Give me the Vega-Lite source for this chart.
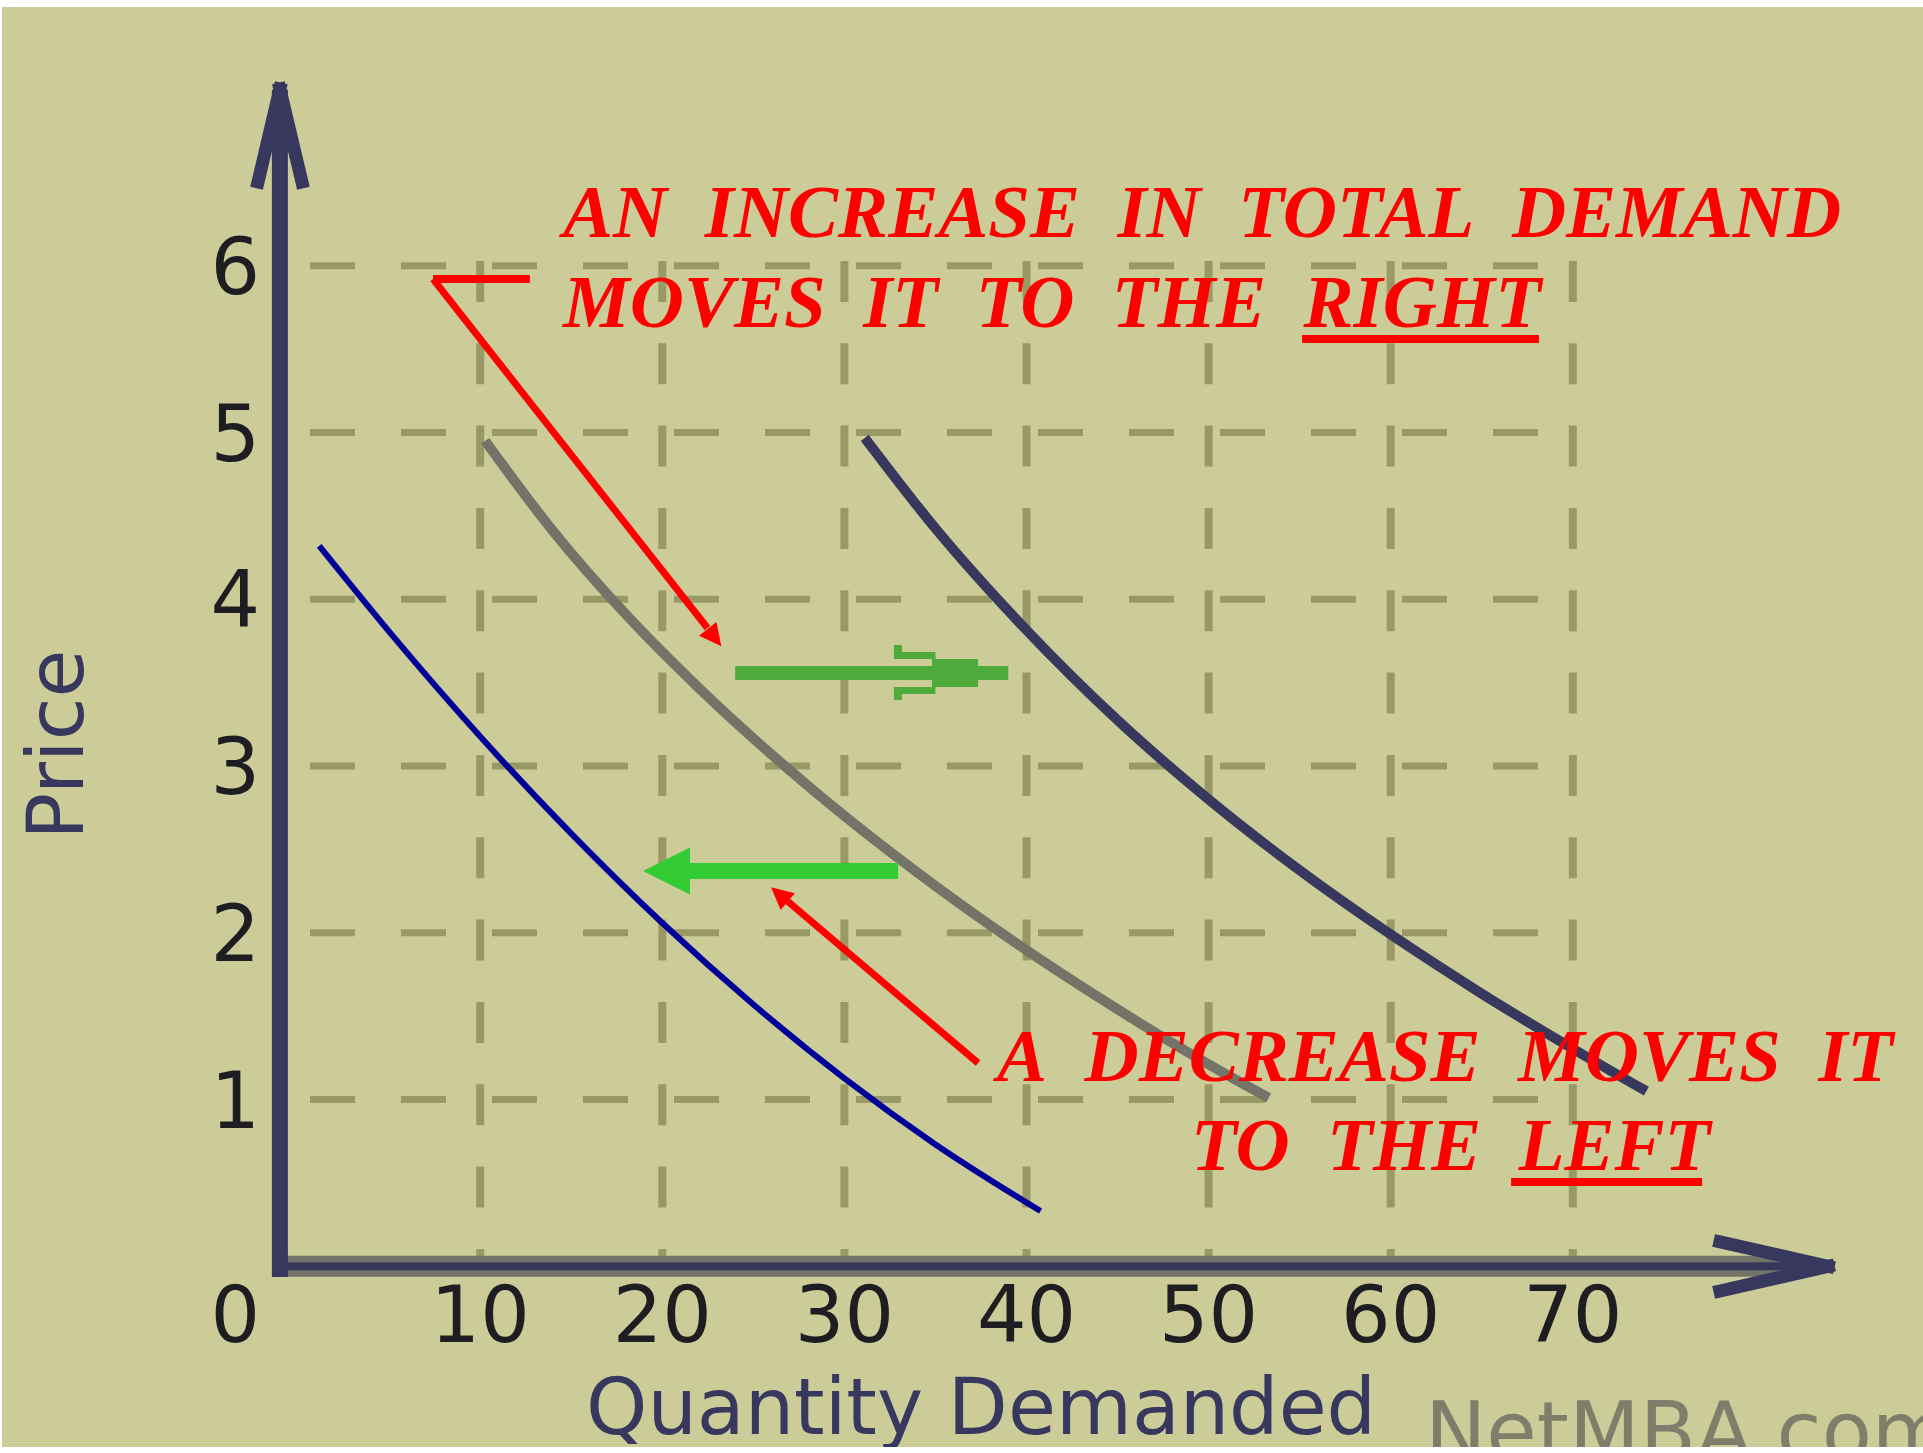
{
  "$schema": "https://vega.github.io/schema/vega-lite/v6.json",
  "width": 1923,
  "height": 1453,
  "autosize": {"type": "fit", "contains": "padding"},
  "padding": {"left": 2, "top": 7, "right": 0, "bottom": 6},
  "background": "white",
  "config": {"view": {"fill": "#CCCC99", "stroke": null}},
  "datasets": {
    "hgrid": [
      {"x": 0.653, "x2": 68.14, "y": 1, "y2": 1},
      {"x": 0.653, "x2": 68.14, "y": 2, "y2": 2},
      {"x": 0.653, "x2": 68.14, "y": 3, "y2": 3},
      {"x": 0.653, "x2": 68.14, "y": 4, "y2": 4},
      {"x": 0.653, "x2": 68.14, "y": 5, "y2": 5},
      {"x": 0.653, "x2": 68.14, "y": 6, "y2": 6}
    ],
    "vgrid": [
      {"x": 10, "x2": 10, "y": 6.029, "y2": 0},
      {"x": 20, "x2": 20, "y": 6.029, "y2": 0},
      {"x": 30, "x2": 30, "y": 6.029, "y2": 0},
      {"x": 40, "x2": 40, "y": 6.029, "y2": 0},
      {"x": 50, "x2": 50, "y": 6.029, "y2": 0},
      {"x": 60, "x2": 60, "y": 6.029, "y2": 0},
      {"x": 70, "x2": 70, "y": 6.029, "y2": 0}
    ],
    "curves": [
      {"curve": "decrease", "x": 1.16, "y": 4.32},
      {"curve": "decrease", "x": 5, "y": 3.806},
      {"curve": "decrease", "x": 10, "y": 3.177},
      {"curve": "decrease", "x": 15, "y": 2.595},
      {"curve": "decrease", "x": 20, "y": 2.059},
      {"curve": "decrease", "x": 25, "y": 1.57},
      {"curve": "decrease", "x": 30, "y": 1.127},
      {"curve": "decrease", "x": 35, "y": 0.731},
      {"curve": "decrease", "x": 40.77, "y": 0.331},
      {"curve": "original", "x": 10.27, "y": 4.95},
      {"curve": "original", "x": 14, "y": 4.409},
      {"curve": "original", "x": 18, "y": 3.909},
      {"curve": "original", "x": 22, "y": 3.469},
      {"curve": "original", "x": 26, "y": 3.069},
      {"curve": "original", "x": 30, "y": 2.701},
      {"curve": "original", "x": 35, "y": 2.281},
      {"curve": "original", "x": 40, "y": 1.896},
      {"curve": "original", "x": 45, "y": 1.541},
      {"curve": "original", "x": 50, "y": 1.211},
      {"curve": "original", "x": 53.3, "y": 1.01},
      {"curve": "increase", "x": 31.12, "y": 4.968},
      {"curve": "increase", "x": 35, "y": 4.425},
      {"curve": "increase", "x": 40, "y": 3.815},
      {"curve": "increase", "x": 45, "y": 3.275},
      {"curve": "increase", "x": 50, "y": 2.8},
      {"curve": "increase", "x": 55, "y": 2.375},
      {"curve": "increase", "x": 60, "y": 1.99},
      {"curve": "increase", "x": 65, "y": 1.635},
      {"curve": "increase", "x": 70, "y": 1.305},
      {"curve": "increase", "x": 74.04, "y": 1.05}
    ],
    "axisSegs": [
      {"part": "yshaft", "x": -1, "y": -0.064, "x2": -1, "y2": 7.054},
      {"part": "barb", "x": -1, "y": 7.06, "x2": -2.2, "y2": 6.503},
      {"part": "barb", "x": -1, "y": 7.06, "x2": 0.21, "y2": 6.503},
      {"part": "barb", "x": 78.08, "y": 0.146, "x2": 84.02, "y2": 0},
      {"part": "barb", "x": 78.08, "y": -0.148, "x2": 84.02, "y2": 0}
    ],
    "xshaft": [
      {"x": -1.43, "y": 0, "x2": 82.5, "y2": 0}
    ],
    "redSegs": [
      {"part": "bar", "x": 7.41, "y": 5.921, "x2": 12.73, "y2": 5.921},
      {"part": "line", "x": 7.41, "y": 5.921, "x2": 22.48, "y2": 3.828},
      {"part": "line", "x": 37.34, "y": 1.219, "x2": 26.89, "y2": 2.188},
      {"part": "bar", "x": 55.13, "y": 5.561, "x2": 68.14, "y2": 5.561},
      {"part": "bar", "x": 66.61, "y": 0.506, "x2": 77.1, "y2": 0.506}
    ],
    "redHeadDown": [{"x": 22.87, "y": 3.771}],
    "redHeadUp": [{"x": 26.43, "y": 2.23}],
    "greenRight": [
      {"part": "shaft", "x": 24.0, "y": 3.558, "x2": 39.0, "y2": 3.558},
      {"part": "body", "x": 34.81, "y": 3.558, "x2": 37.34, "y2": 3.558},
      {"part": "barb", "x": 32.72, "y": 3.663, "x2": 35.0, "y2": 3.663},
      {"part": "barb", "x": 32.72, "y": 3.453, "x2": 35.0, "y2": 3.453},
      {"part": "tick", "x": 32.94, "y": 3.726, "x2": 32.94, "y2": 3.645},
      {"part": "tick", "x": 32.94, "y": 3.471, "x2": 32.94, "y2": 3.396}
    ],
    "greenLeft": [{"x": 21.3, "y": 2.371, "x2": 32.95, "y2": 2.371}],
    "greenLeftHead": [{"x": 20.23, "y": 2.371}],
    "ylabels": [
      {"x": -2.09, "y": 1, "label": "1"},
      {"x": -2.09, "y": 2, "label": "2"},
      {"x": -2.09, "y": 3, "label": "3"},
      {"x": -2.09, "y": 4, "label": "4"},
      {"x": -2.09, "y": 5, "label": "5"},
      {"x": -2.09, "y": 6, "label": "6"}
    ],
    "xlabels": [
      {"x": 10, "y": 0, "label": "10"},
      {"x": 20, "y": 0, "label": "20"},
      {"x": 30, "y": 0, "label": "30"},
      {"x": 40, "y": 0, "label": "40"},
      {"x": 50, "y": 0, "label": "50"},
      {"x": 60, "y": 0, "label": "60"},
      {"x": 70, "y": 0, "label": "70"}
    ],
    "zerolabel": [{"x": -2.09, "y": 0, "label": "0"}],
    "notes": [
      {"x": 14.55, "y": 6.173, "label": "AN\u00a0\u00a0INCREASE\u00a0\u00a0IN\u00a0\u00a0TOTAL\u00a0\u00a0DEMAND"},
      {"x": 14.55, "y": 5.633, "label": "MOVES\u00a0\u00a0IT\u00a0\u00a0TO\u00a0\u00a0THE\u00a0\u00a0RIGHT"},
      {"x": 38.38, "y": 1.113, "label": "A\u00a0\u00a0DECREASE\u00a0\u00a0MOVES\u00a0\u00a0IT"},
      {"x": 49.03, "y": 0.578, "label": "TO\u00a0\u00a0THE\u00a0\u00a0LEFT"}
    ],
    "xtitle": [{"x": 15.81, "y": -1.006, "label": "Quantity Demanded"}],
    "ytitle": [{"x": -11.81, "y": 3.129, "label": "Price"}],
    "watermark": [{"x": 61.88, "y": -1.16, "label": "NetMBA.com"}]
  },
  "encoding": {
    "x": {"field": "x", "type": "quantitative", "scale": {"domain": [-16.26, 89.23], "nice": false, "zero": false}, "axis": null},
    "y": {"field": "y", "type": "quantitative", "scale": {"domain": [-1.0837, 7.552], "nice": false, "zero": false}, "axis": null}
  },
  "layer": [
    {
      "data": {"name": "hgrid"},
      "mark": {"type": "rule", "color": "#999966", "strokeWidth": 7, "strokeDash": [45, 46]},
      "encoding": {"x2": {"field": "x2"}, "y2": {"field": "y2"}}
    },
    {
      "data": {"name": "vgrid"},
      "mark": {"type": "rule", "color": "#999966", "strokeWidth": 8, "strokeDash": [41, 41.33]},
      "encoding": {"x2": {"field": "x2"}, "y2": {"field": "y2"}}
    },
    {
      "data": {"name": "curves"},
      "transform": [{"filter": "datum.curve === 'decrease'"}],
      "mark": {"type": "line", "color": "#000099", "strokeWidth": 6, "interpolate": "monotone"},
      "encoding": {}
    },
    {
      "data": {"name": "curves"},
      "transform": [{"filter": "datum.curve === 'original'"}],
      "mark": {"type": "line", "color": "#737368", "strokeWidth": 10, "interpolate": "monotone"},
      "encoding": {}
    },
    {
      "data": {"name": "curves"},
      "transform": [{"filter": "datum.curve === 'increase'"}],
      "mark": {"type": "line", "color": "#38385F", "strokeWidth": 10, "interpolate": "monotone"},
      "encoding": {}
    },
    {
      "data": {"name": "xshaft"},
      "mark": {"type": "rule", "color": "#737368", "strokeWidth": 21},
      "encoding": {"x2": {"field": "x2"}, "y2": {"field": "y2"}}
    },
    {
      "data": {"name": "xshaft"},
      "mark": {"type": "rule", "color": "#38385F", "strokeWidth": 8},
      "encoding": {"x2": {"field": "x2"}, "y2": {"field": "y2"}}
    },
    {
      "data": {"name": "axisSegs"},
      "transform": [{"filter": "datum.part === 'yshaft'"}],
      "mark": {"type": "rule", "color": "#38385F", "strokeWidth": 16},
      "encoding": {"x2": {"field": "x2"}, "y2": {"field": "y2"}}
    },
    {
      "data": {"name": "axisSegs"},
      "transform": [{"filter": "datum.part === 'barb'"}],
      "mark": {"type": "rule", "color": "#38385F", "strokeWidth": 13, "strokeCap": "square"},
      "encoding": {"x2": {"field": "x2"}, "y2": {"field": "y2"}}
    },
    {
      "data": {"name": "greenRight"},
      "transform": [{"filter": "datum.part === 'shaft'"}],
      "mark": {"type": "rule", "color": "#4EAA3A", "strokeWidth": 14},
      "encoding": {"x2": {"field": "x2"}, "y2": {"field": "y2"}}
    },
    {
      "data": {"name": "greenRight"},
      "transform": [{"filter": "datum.part === 'body'"}],
      "mark": {"type": "rule", "color": "#4EAA3A", "strokeWidth": 28},
      "encoding": {"x2": {"field": "x2"}, "y2": {"field": "y2"}}
    },
    {
      "data": {"name": "greenRight"},
      "transform": [{"filter": "datum.part === 'barb'"}],
      "mark": {"type": "rule", "color": "#4EAA3A", "strokeWidth": 7},
      "encoding": {"x2": {"field": "x2"}, "y2": {"field": "y2"}}
    },
    {
      "data": {"name": "greenRight"},
      "transform": [{"filter": "datum.part === 'tick'"}],
      "mark": {"type": "rule", "color": "#4EAA3A", "strokeWidth": 8},
      "encoding": {"x2": {"field": "x2"}, "y2": {"field": "y2"}}
    },
    {
      "data": {"name": "greenLeft"},
      "mark": {"type": "rule", "color": "#33CC33", "strokeWidth": 16},
      "encoding": {"x2": {"field": "x2"}, "y2": {"field": "y2"}}
    },
    {
      "data": {"name": "greenLeftHead"},
      "mark": {"type": "point", "shape": "M-1,0L1,-1L1,1Z", "filled": true, "size": 2209, "color": "#33CC33", "opacity": 1, "strokeWidth": 0},
      "encoding": {}
    },
    {
      "data": {"name": "redSegs"},
      "transform": [{"filter": "datum.part === 'bar'"}],
      "mark": {"type": "rule", "color": "#FF0000", "strokeWidth": 8},
      "encoding": {"x2": {"field": "x2"}, "y2": {"field": "y2"}}
    },
    {
      "data": {"name": "redSegs"},
      "transform": [{"filter": "datum.part === 'line'"}],
      "mark": {"type": "rule", "color": "#FF0000", "strokeWidth": 7},
      "encoding": {"x2": {"field": "x2"}, "y2": {"field": "y2"}}
    },
    {
      "data": {"name": "redHeadDown"},
      "mark": {"type": "point", "shape": "M1,0L-1,-1L-1,1Z", "filled": true, "size": 484, "angle": 51.85, "color": "#FF0000", "opacity": 1, "strokeWidth": 0},
      "encoding": {}
    },
    {
      "data": {"name": "redHeadUp"},
      "mark": {"type": "point", "shape": "M1,0L-1,-1L-1,1Z", "filled": true, "size": 484, "angle": 220.3, "color": "#FF0000", "opacity": 1, "strokeWidth": 0},
      "encoding": {}
    },
    {
      "data": {"name": "ylabels"},
      "mark": {"type": "text", "font": "DejaVu Sans", "fontSize": 78, "color": "#1E1E22", "align": "right", "baseline": "alphabetic", "dy": 28, "clip": true},
      "encoding": {"text": {"field": "label"}}
    },
    {
      "data": {"name": "xlabels"},
      "mark": {"type": "text", "font": "DejaVu Sans", "fontSize": 78, "color": "#1E1E22", "align": "center", "baseline": "alphabetic", "dy": 76, "clip": true},
      "encoding": {"text": {"field": "label"}}
    },
    {
      "data": {"name": "zerolabel"},
      "mark": {"type": "text", "font": "DejaVu Sans", "fontSize": 78, "color": "#1E1E22", "align": "right", "baseline": "alphabetic", "dy": 76, "clip": true},
      "encoding": {"text": {"field": "label"}}
    },
    {
      "data": {"name": "xtitle"},
      "mark": {"type": "text", "font": "DejaVu Sans", "fontSize": 78, "color": "#38385F", "align": "left", "baseline": "alphabetic", "clip": true},
      "encoding": {"text": {"field": "label"}}
    },
    {
      "data": {"name": "ytitle"},
      "mark": {"type": "text", "font": "DejaVu Sans", "fontSize": 78, "color": "#38385F", "align": "center", "baseline": "alphabetic", "angle": 270, "clip": true},
      "encoding": {"text": {"field": "label"}}
    },
    {
      "data": {"name": "watermark"},
      "mark": {"type": "text", "font": "DejaVu Sans", "fontSize": 82, "color": "#7E7E6A", "align": "left", "baseline": "alphabetic", "clip": true},
      "encoding": {"text": {"field": "label"}}
    },
    {
      "data": {"name": "notes"},
      "mark": {"type": "text", "font": "Liberation Serif", "fontSize": 75, "fontStyle": "italic", "fontWeight": "bold", "color": "#FF0000", "align": "left", "baseline": "alphabetic", "clip": true},
      "encoding": {"text": {"field": "label"}}
    }
  ]
}
